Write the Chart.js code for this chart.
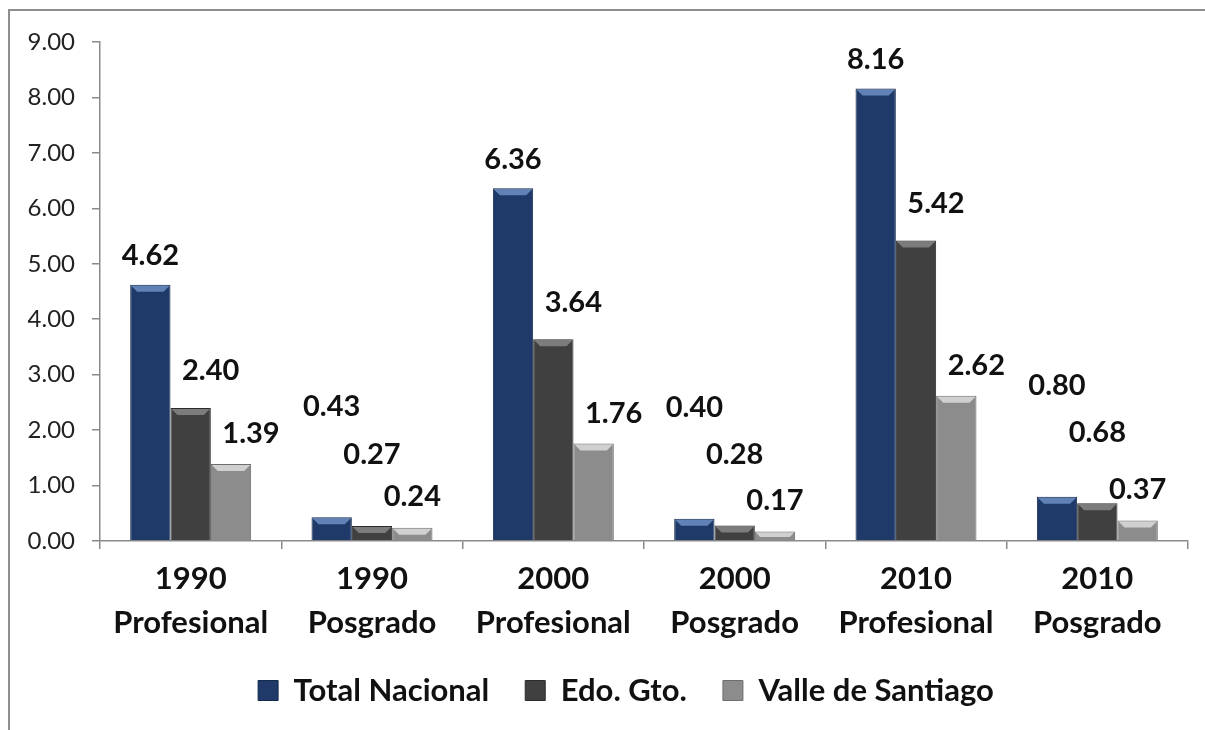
<!DOCTYPE html>
<html>
<head>
<meta charset="utf-8">
<script src="https://cdn.jsdelivr.net/npm/chart.js@4.4.1/dist/chart.umd.min.js"></script>
<style>
  html, body { margin: 0; padding: 0; background: #ffffff; overflow: hidden; }
  canvas { display: block; }
</style>
</head>
<body>
<canvas id="c" width="1205" height="730"></canvas>
<script>
// ---- data ----
const categories = [
  ['1990', 'Profesional'],
  ['1990', 'Posgrado'],
  ['2000', 'Profesional'],
  ['2000', 'Posgrado'],
  ['2010', 'Profesional'],
  ['2010', 'Posgrado']
];
const seriesNames = ['Total Nacional', 'Edo. Gto.', 'Valle de Santiago'];
const totalNacional = [4.62, 0.43, 6.36, 0.40, 8.16, 0.80];
const edoGto = [2.40, 0.27, 3.64, 0.28, 5.42, 0.68];
const valleSantiago = [1.39, 0.24, 1.76, 0.17, 2.62, 0.37];
const yTicks = [0, 1, 2, 3, 4, 5, 6, 7, 8, 9];

const FONT = 'Lato, "Open Sans", sans-serif';
const fills = ['#1f3a68', '#404040', '#8c8c8c'];
const borders = ['#142a4d', '#2b2b2b', '#6e6e6e'];
const bevels = ['rgba(120,155,210,0.75)', 'rgba(150,150,150,0.7)', 'rgba(225,225,225,0.8)'];

// label placement (style): [dx, dy above bar top] per series, by category kind
const labelPlacement = {
  Profesional: [[0, 29], [20, 37], [20, 30]],
  Posgrado: [[0, 111], [0, 71], [0, 31]]
};

const framePlugin = {
  id: 'frame',
  beforeDraw(chart) {
    const ctx = chart.ctx;
    ctx.save();
    ctx.strokeStyle = '#8e8e8e';
    ctx.lineWidth = 2;
    ctx.beginPath();
    ctx.moveTo(9, chart.height + 5);
    ctx.lineTo(9, 10);
    ctx.lineTo(chart.width + 5, 10);
    ctx.stroke();
    ctx.restore();
  }
};

const legendShift = {
  id: 'legendShift',
  afterLayout(chart) {
    const lg = chart.legend;
    if (lg) { lg.left += 64; lg.top -= 8; lg.bottom -= 8; }
  }
};

const bevelPlugin = {
  id: 'bevel',
  afterDatasetsDraw(chart) {
    const ctx = chart.ctx;
    chart.data.datasets.forEach((ds, di) => {
      const meta = chart.getDatasetMeta(di);
      meta.data.forEach(bar => {
        const w = bar.width, left = bar.x - w / 2, right = bar.x + w / 2, top = bar.y;
        const h = Math.min(6, (bar.base - bar.y) / 2);
        ctx.save();
        ctx.fillStyle = bevels[di];
        ctx.beginPath();
        ctx.moveTo(left + 1, top + 1);
        ctx.lineTo(right - 1, top + 1);
        ctx.lineTo(right - 1 - h, top + 1 + h);
        ctx.lineTo(left + 1 + h, top + 1 + h);
        ctx.closePath();
        ctx.fill();
        ctx.restore();
      });
    });
  }
};

const valueLabels = {
  id: 'valueLabels',
  afterDatasetsDraw(chart) {
    const ctx = chart.ctx;
    ctx.save();
    ctx.font = 'bold 29px ' + FONT;
    ctx.fillStyle = '#111111';
    ctx.textAlign = 'center';
    ctx.textBaseline = 'middle';
    chart.data.datasets.forEach((ds, di) => {
      const meta = chart.getDatasetMeta(di);
      meta.data.forEach((bar, i) => {
        const kind = chart.data.labels[i][1];
        const p = labelPlacement[kind][di];
        ctx.fillText(ds.data[i].toFixed(2), bar.x + p[0], bar.y - p[1]);
      });
    });
    ctx.restore();
  }
};

const datasets = [totalNacional, edoGto, valleSantiago].map((vals, i) => ({
  label: seriesNames[i],
  data: vals,
  backgroundColor: fills[i],
  borderColor: borders[i],
  borderWidth: 1,
  categoryPercentage: 0.667,
  barPercentage: 1.0
}));

new Chart(document.getElementById('c'), {
  type: 'bar',
  data: { labels: categories, datasets },
  options: {
    responsive: false,
    animation: false,
    layout: { padding: { left: 0, right: 17, top: 42, bottom: 6 } },
    plugins: {
      tooltip: { enabled: false },
      legend: {
        position: 'bottom',
        labels: {
          boxWidth: 20, boxHeight: 20, padding: 36,
          color: '#111111',
          font: { family: FONT, size: 31, weight: 'bold' }
        }
      }
    },
    scales: {
      x: {
        afterFit(s) { s.height = 106; },
        grid: { drawOnChartArea: false, offset: true, tickLength: 8, color: '#8a8a8a', lineWidth: 1.5 },
        border: { color: '#8a8a8a', width: 1.5 },
        ticks: {
          padding: 8,
          color: '#111111',
          font: { family: FONT, size: 31, weight: 'bold', lineHeight: '44px' }
        }
      },
      y: {
        min: 0, max: 9,
        afterFit(s) { s.width = 100; },
        afterBuildTicks(s) { s.ticks = yTicks.map(v => ({ value: v })); },
        grid: { drawOnChartArea: false, tickLength: 8, color: '#8a8a8a', lineWidth: 1.5 },
        border: { color: '#8a8a8a', width: 1.5 },
        ticks: {
          padding: 17,
          color: '#222222',
          font: { family: FONT, size: 24 },
          callback: v => Number(v).toFixed(2)
        }
      }
    }
  },
  plugins: [framePlugin, legendShift, bevelPlugin, valueLabels]
});
</script>
</body>
</html>
